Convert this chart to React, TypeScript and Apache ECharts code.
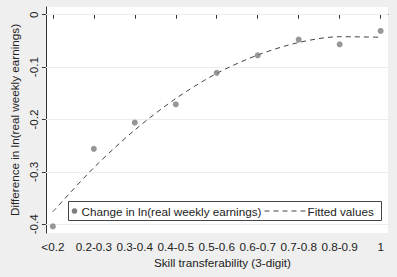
import React, { useEffect, useRef } from "react";
import * as echarts from "echarts";

const categories = ["<0.2", "0.2-0.3", "0.3-0.4", "0.4-0.5", "0.5-0.6", "0.6-0.7", "0.7-0.8", "0.8-0.9", "1"];
const changeValues = [-0.404, -0.256, -0.206, -0.171, -0.111, -0.0775, -0.0476, -0.0565, -0.031];
const fittedValues = [-0.376, -0.292, -0.22, -0.16, -0.112, -0.077, -0.053, -0.042, -0.043];
const yTicks = [0, -0.1, -0.2, -0.3, -0.4];
const xPositions = categories.map((_, i) => i + 1);

const FONT = "'Liberation Sans', Arial, sans-serif";
const FS = 11.7;

export default function App() {
  const ref = useRef<HTMLDivElement>(null);
  useEffect(() => {
    if (!ref.current) return;
    const chart = echarts.init(ref.current, null, { renderer: "svg" });
    chart.setOption({
      animation: false,
      backgroundColor: "#efefef",
      textStyle: { fontFamily: FONT },
      grid: {
        left: 43,
        right: 9,
        top: 7,
        bottom: 44,
        show: true,
        backgroundColor: "#ffffff",
        borderWidth: 0,
      },
      xAxis: {
        type: "value",
        min: 0.83,
        max: 9.18,
        name: "Skill transferability (3-digit)",
        nameLocation: "middle",
        nameGap: 23,
        nameTextStyle: { fontSize: FS, color: "#222", fontFamily: FONT, padding: [0, 0, 0, 11] },
        axisLine: { show: true, lineStyle: { color: "#333", width: 1 } },
        axisTick: { show: true, length: 4, customValues: xPositions, lineStyle: { color: "#333" } },
        axisLabel: {
          customValues: xPositions,
          formatter: (v: number) => categories[Math.round(v) - 1] ?? "",
          fontSize: FS,
          color: "#222",
          margin: 7,
          fontFamily: FONT,
        },
        splitLine: { show: false },
      },
      yAxis: {
        type: "value",
        min: -0.4166,
        max: 0.0147,
        name: "Difference in ln(real weekly earnings)",
        nameLocation: "middle",
        nameRotate: 90,
        nameGap: 19,
        nameTextStyle: { fontSize: FS, color: "#222", fontFamily: FONT },
        axisLine: { show: true, lineStyle: { color: "#333", width: 1 } },
        axisTick: { show: true, length: 4, customValues: yTicks, lineStyle: { color: "#333" } },
        axisLabel: {
          customValues: yTicks,
          rotate: 90,
          formatter: (v: number) => String(Math.round(v * 10) / 10),
          fontSize: FS,
          color: "#222",
          margin: 6,
          fontFamily: FONT,
        },
        splitLine: { show: false },
      },
      series: [
        {
          name: "Fitted values",
          type: "line",
          data: xPositions.map((x, i) => [x, fittedValues[i]]),
          smooth: 0.3,
          showSymbol: false,
          lineStyle: { color: "#444", width: 1, type: [5, 4] },
          z: 3,
          markLine: {
            silent: true,
            symbol: "none",
            label: { show: false },
            lineStyle: { color: "#ececec", width: 1, type: "solid" },
            data: yTicks.map((t) => ({ yAxis: t })),
            z: 1,
          },
        },
        {
          name: "Change in ln(real weekly earnings)",
          type: "scatter",
          data: xPositions.map((x, i) => [x, changeValues[i]]),
          symbol: "circle",
          symbolSize: 6,
          itemStyle: { color: "#7d7d7d" },
          z: 4,
        },
      ],
      graphic: [
        {
          type: "group",
          left: 68,
          top: 201,
          z: 10,
          children: [
            {
              type: "rect",
              shape: { x: 0, y: 0, width: 313, height: 19 },
              style: { fill: "#ffffff", stroke: "#444", lineWidth: 1 },
            },
            {
              type: "circle",
              shape: { cx: 6, cy: 9.5, r: 2.8 },
              style: { fill: "#7d7d7d" },
            },
            {
              type: "text",
              x: 13,
              y: 9.5,
              style: {
                text: "Change in ln(real weekly earnings)",
                fontSize: FS,
                fontFamily: FONT,
                fill: "#222",
                verticalAlign: "middle",
                align: "left",
              },
            },
            {
              type: "line",
              shape: { x1: 196, y1: 9.5, x2: 237, y2: 9.5 },
              style: { stroke: "#444", lineWidth: 1, lineDash: [5, 4] },
            },
            {
              type: "text",
              x: 239,
              y: 9.5,
              style: {
                text: "Fitted values",
                fontSize: FS,
                fontFamily: FONT,
                fill: "#222",
                verticalAlign: "middle",
                align: "left",
              },
            },
          ],
        },
      ],
    });
    return () => chart.dispose();
  }, []);
  return (
    <div
      ref={ref}
      style={{ position: "fixed", left: 0, top: 0, width: 397, height: 277 }}
    />
  );
}
